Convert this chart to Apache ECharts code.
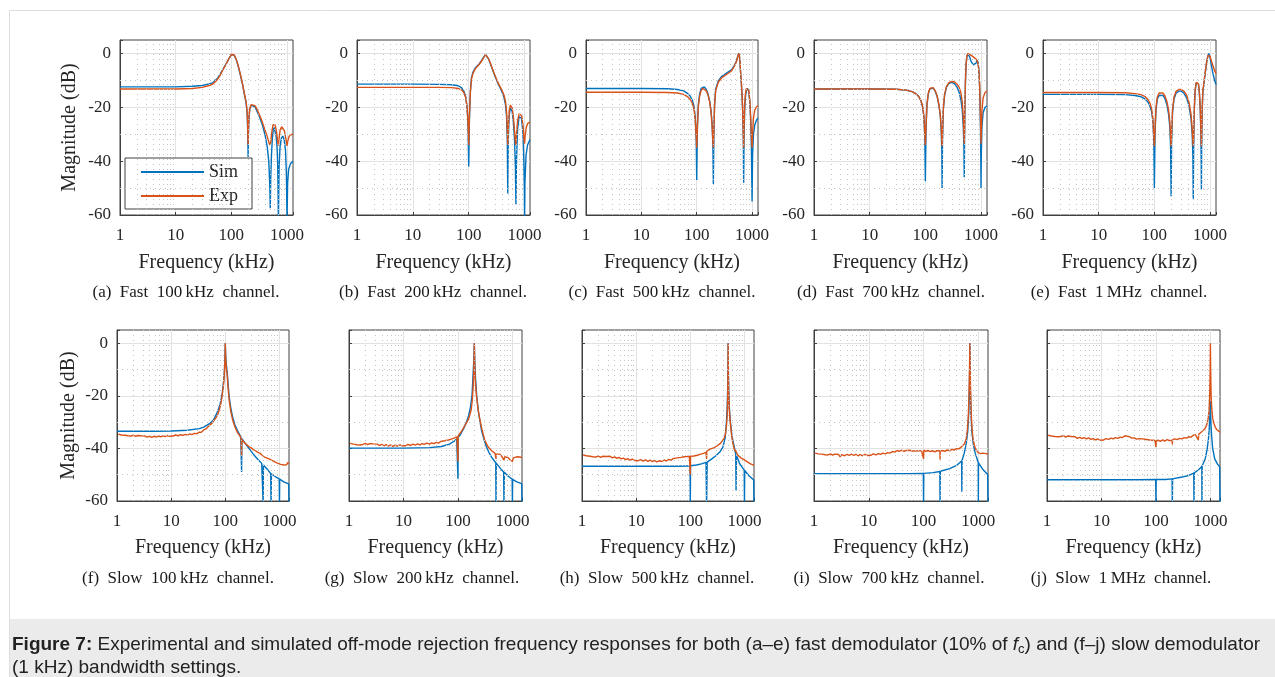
<!DOCTYPE html>
<html>
<head>
<meta charset="utf-8">
<script src="https://cdn.jsdelivr.net/npm/echarts@6.0.0/dist/echarts.min.js"></script>
<style>
  html, body { margin: 0; padding: 0; background: #fff; }
  #main { width: 1275px; height: 677px; }
</style>
</head>
<body>
<div id="main"></div>
<script>
// ---- data: [frequency kHz, magnitude dB] ----
// fast demodulator (a-e)
var simA = [[1,-12.4],[10,-12.4],[20,-12.2],[30,-11.9],[40,-11.3],[46,-10.9],[55,-9.5],[62,-8],[70,-6],[80,-4],[92,-1.6],[100,-0.4],[106,0],[112,-0.6],[122,-2.2],[131,-4.3],[140,-6.6],[150,-9.2],[159,-11.6],[170,-14.8],[184,-18.4],[192,-22],[196,-28],[199,-35],[200,-38.5],[202,-31],[207,-24],[215,-20.5],[228,-19.2],[245,-19],[265,-19.8],[290,-21.5],[320,-23.5],[360,-26.5],[400,-30],[440,-34.5],[470,-40],[490,-49],[500,-57.5],[510,-46],[525,-38],[545,-31.5],[565,-28.5],[585,-27.5],[610,-28],[635,-30.5],[660,-34.5],[680,-41],[700,-62],[720,-42],[750,-34.5],[790,-31.5],[840,-30.7],[890,-32],[940,-36],[975,-45],[1000,-62],[1025,-48],[1070,-43],[1150,-41],[1280,-40]];
var expA = [[1,-13.2],[10,-13.2],[20,-13],[30,-12.6],[40,-11.9],[46,-11.4],[55,-9.9],[62,-8.3],[70,-6.2],[80,-4.1],[92,-1.6],[100,-0.4],[106,0],[112,-0.5],[122,-2.1],[131,-4.1],[140,-6.4],[150,-9],[159,-11.4],[170,-14.5],[184,-18],[192,-21.5],[196,-26],[199,-32],[200,-34],[202,-29],[207,-23.5],[215,-20.2],[228,-19],[245,-18.7],[265,-19.4],[290,-20.8],[320,-22.8],[360,-25.5],[400,-28.3],[440,-30.8],[470,-32.8],[490,-34],[500,-34.5],[510,-33],[530,-29.5],[560,-26.5],[585,-25.8],[610,-26.5],[640,-28.5],[670,-31.5],[690,-33.5],[700,-34.3],[715,-32],[750,-28.5],[800,-27.2],[850,-27.3],[900,-28.8],[950,-31.5],[985,-33.5],[1000,-34.3],[1020,-33],[1080,-31],[1150,-30.2],[1280,-30]];

var simB = [[1,-11.4],[10,-11.4],[30,-11.5],[50,-11.6],[65,-12],[75,-12.8],[82,-14],[88,-16],[93,-19.5],[97,-26],[100,-42],[103,-24],[107,-14],[112,-9],[120,-6.8],[130,-5.5],[140,-4.8],[155,-3.8],[170,-2.6],[185,-1.4],[200,-0.3],[208,0],[215,-0.5],[230,-2.3],[250,-4.4],[280,-7.2],[310,-9.6],[340,-11.5],[370,-13],[400,-14.6],[430,-16.5],[455,-19],[475,-23],[490,-32],[500,-52],[510,-32],[530,-23],[555,-20.3],[575,-20],[600,-21.5],[630,-25.5],[660,-32],[685,-42],[700,-56],[715,-40],[750,-28],[800,-23.5],[840,-22.8],[880,-24],[930,-29],[965,-38],[990,-50],[1000,-62],[1015,-48],[1060,-38],[1130,-34],[1250,-32]];
var expB = [[1,-12.6],[10,-12.6],[30,-12.6],[50,-12.7],[65,-13],[75,-13.6],[82,-14.6],[88,-16.3],[93,-19.5],[97,-25],[100,-34],[103,-23],[107,-14.5],[112,-9.5],[120,-7.2],[130,-5.8],[140,-5],[155,-4],[170,-2.8],[185,-1.6],[200,-0.4],[208,0],[215,-0.5],[230,-2.2],[250,-4.2],[280,-7],[310,-9.3],[340,-11.2],[370,-12.6],[400,-14],[430,-15.6],[455,-17.8],[475,-21.5],[490,-28],[500,-34],[510,-28],[530,-21.5],[555,-19.2],[575,-19],[600,-20.2],[630,-23.5],[660,-28.5],[685,-33],[700,-34],[715,-30],[750,-25],[800,-22.4],[845,-22],[890,-23.2],[940,-27],[975,-31.5],[1000,-33.5],[1020,-31],[1070,-27.5],[1140,-26],[1250,-25.5]];

var simC = [[1,-13],[10,-13],[30,-13.1],[45,-13.4],[58,-13.9],[68,-14.8],[76,-15.8],[83,-17.3],[89,-19.5],[94,-23.5],[98,-32],[100,-47],[103,-27],[107,-19],[113,-15],[120,-13],[128,-12.3],[137,-12.4],[148,-13.3],[160,-15],[172,-17.8],[182,-21.5],[190,-26.5],[196,-34],[200,-48.5],[204,-30],[210,-19],[220,-13.3],[245,-10.2],[280,-8.6],[345,-7.3],[425,-6.1],[475,-4.6],[525,-2.7],[555,-0.8],[575,0],[590,-0.9],[605,-3.2],[620,-7],[640,-11],[660,-16],[680,-22.5],[695,-32],[705,-48],[715,-32],[735,-21],[760,-16],[790,-13.8],[830,-13],[870,-14],[910,-18],[945,-25],[975,-36],[1000,-55],[1020,-38],[1060,-30],[1120,-26.5],[1200,-24.8],[1280,-24]];
var expC = [[1,-14.4],[10,-14.4],[30,-14.5],[45,-14.7],[58,-15.2],[68,-16],[76,-17],[83,-18.4],[89,-20.5],[94,-24.5],[98,-31],[100,-35],[103,-27],[107,-19.8],[113,-15.8],[120,-13.8],[128,-13],[137,-13],[148,-13.8],[160,-15.4],[172,-18.2],[182,-22],[190,-27],[196,-32.5],[200,-35],[204,-29],[210,-19.5],[220,-13.8],[245,-10.7],[280,-9.1],[345,-7.8],[425,-6.5],[475,-4.9],[525,-2.9],[555,-0.9],[575,0],[590,-0.8],[605,-3],[620,-6.8],[640,-10.8],[660,-15.5],[680,-22],[695,-30],[705,-35],[715,-28],[735,-19],[760,-14.8],[790,-13],[830,-12.6],[870,-13.7],[910,-17.5],[945,-24],[975,-31],[1000,-35],[1020,-30],[1060,-24],[1120,-21],[1200,-19.8],[1280,-19.5]];

var simD = [[1,-13.2],[10,-13.2],[30,-13.3],[45,-13.6],[58,-14.2],[68,-15],[76,-16],[83,-17.5],[89,-19.7],[94,-23.5],[98,-32],[100,-47.5],[103,-27],[107,-19],[113,-15],[120,-13.2],[128,-12.7],[138,-12.9],[150,-14],[163,-16],[176,-19.5],[186,-23.5],[193,-29],[198,-37],[200,-50],[203,-33],[210,-21],[222,-15.5],[240,-12.5],[265,-11.1],[300,-10.7],[335,-11.3],[370,-12.5],[405,-14.5],[435,-17.2],[460,-21],[480,-27],[493,-35],[500,-46],[507,-30],[515,-18],[525,-10.5],[540,-4],[558,-1],[580,-0.1],[600,0],[625,-1.3],[660,-2.8],[720,-4.2],[770,-4.5],[810,-3.6],[850,-2.6],[885,-3.4],[920,-7],[950,-14],[975,-26],[992,-40],[1000,-50],[1010,-38],[1040,-27],[1090,-22],[1180,-20],[1280,-19.5]];
var expD = [[1,-13.2],[10,-13.2],[30,-13.3],[45,-13.6],[58,-14.2],[68,-15],[76,-16],[83,-17.4],[89,-19.5],[94,-23],[98,-30],[100,-34],[103,-26.5],[107,-18.8],[113,-14.8],[120,-13],[128,-12.5],[138,-12.7],[150,-13.8],[163,-15.8],[176,-19.2],[186,-23],[193,-28],[198,-33],[200,-34.5],[203,-30],[210,-20.5],[222,-15],[240,-12.2],[265,-10.8],[300,-10.4],[335,-10.6],[370,-11.4],[405,-12.6],[435,-14.6],[460,-18],[480,-23.5],[493,-30],[500,-33.5],[507,-28],[515,-17.5],[525,-10],[540,-3.8],[558,-0.9],[580,-0.1],[600,0],[640,-0.5],[700,-1],[760,-1.6],[820,-2.2],[870,-3],[910,-5.5],[945,-12],[975,-23],[992,-31],[1000,-33.5],[1010,-29],[1040,-21],[1090,-16.5],[1180,-14.5],[1280,-14]];

var simE = [[1,-15.2],[10,-15.2],[30,-15.3],[45,-15.6],[58,-16.1],[68,-16.9],[76,-17.9],[83,-19.4],[89,-21.5],[94,-25],[98,-33],[100,-50],[103,-29],[107,-21],[113,-17],[122,-15.5],[132,-15.2],[143,-15.6],[155,-16.8],[168,-19],[180,-22.5],[190,-27.5],[196,-35],[200,-53],[204,-33],[212,-22],[225,-17],[245,-14.8],[275,-14],[305,-14],[340,-14.8],[380,-16.5],[420,-19.5],[455,-24],[478,-30],[492,-38],[500,-54],[508,-36],[520,-22],[540,-14],[565,-11],[595,-10.3],[620,-11.5],[645,-15],[668,-21],[685,-30],[695,-40],[700,-50.5],[706,-36],[720,-22],[745,-14],[770,-12],[800,-9],[830,-6.5],[860,-4],[890,-2.2],[920,-0.8],[950,0],[1000,-1.5],[1060,-4.5],[1130,-7.5],[1200,-9.8],[1280,-11.5]];
var expE = [[1,-14.5],[10,-14.5],[30,-14.6],[45,-14.9],[58,-15.3],[68,-16],[76,-17],[83,-18.4],[89,-20.4],[94,-24],[98,-31],[100,-34.5],[103,-28],[107,-20],[113,-16.2],[122,-14.7],[132,-14.4],[143,-14.7],[155,-15.8],[168,-17.8],[180,-21],[190,-25.5],[196,-31],[200,-34.5],[204,-30],[212,-21],[225,-16.2],[245,-14.1],[275,-13.4],[305,-13.4],[340,-14],[380,-15.5],[420,-18.2],[455,-22.5],[478,-28],[492,-32.5],[500,-34.5],[508,-31],[520,-21],[540,-13.5],[565,-10.7],[595,-10.2],[620,-11.3],[645,-14.6],[668,-20.5],[685,-28],[695,-33],[700,-34.5],[706,-31],[720,-21],[745,-13.5],[770,-11.5],[800,-8.6],[830,-6.2],[860,-3.8],[890,-2],[920,-0.7],[950,0],[1000,-1],[1060,-2.8],[1130,-4.6],[1200,-6.2],[1280,-7.5]];

// slow demodulator (f-j)
var simF = [[1,-33.5],[5,-33.5],[10,-33.4],[20,-33.1],[33,-32.5],[40,-31.9],[51,-30.6],[60,-29.3],[70,-26.6],[80,-23.3],[88,-19],[93,-14.5],[96,-11],[98,-7],[99.3,-3],[100,0],[100.7,-2.5],[102,-5.5],[104,-8],[108,-10.5],[113,-16],[118,-20.5],[126,-24.5],[136,-28],[150,-31],[168,-33.2],[193,-35.7],[198,-36],[200,-49],[202,-36.3],[240,-38.5],[275,-40.1],[330,-42.2],[400,-44.2],[470,-45.7],[495,-46.2],[500,-61],[505,-46.3],[600,-48],[690,-49.6],[700,-61],[710,-49.7],[850,-50.8],[990,-51.6],[1000,-61],[1010,-51.7],[1200,-52.7],[1480,-53.5],[1500,-61]];
var expF = [[1.05,-34.6],[1.2,-34.9],[1.4,-35.0],[1.5,-34.7],[1.6,-35.2],[1.7,-34.9],[1.8,-35.3],[2,-35.0],[2.2,-35.4],[2.4,-35.1],[2.6,-35.5],[2.8,-35.2],[3,-35.6],[3.3,-35.3],[3.6,-35.7],[4,-35.4],[4.4,-35.8],[4.8,-35.4],[5.3,-35.7],[5.8,-35.3],[6.4,-35.6],[7,-35.2],[7.7,-35.5],[8.5,-35.1],[9.3,-35.4],[10,-35.0],[11,-35.3],[12,-34.9],[13.5,-35.2],[15,-34.8],[16.5,-35.1],[18,-34.7],[20,-35.0],[22,-34.5],[24,-34.8],[27,-34.3],[30,-34.4],[33,-33.8],[36,-33.9],[40,-33.0],[44,-32.6],[48,-31.8],[52,-31.4],[57,-30.4],[62,-29.8],[67,-28.4],[72,-27.2],[77,-25.5],[82,-23.4],[86,-21],[90,-18],[93,-15.5],[96,-11.5],[98,-7.5],[99.3,-3.5],[100,0],[100.7,-3],[102,-6.5],[104,-9],[108,-12],[113,-17.5],[118,-21.8],[126,-25.8],[136,-29],[150,-31.8],[168,-34],[185,-35.2],[196,-36.2],[199,-36.5],[200,-43],[201,-36.6],[215,-37.3],[230,-38.0],[250,-38.6],[275,-39.4],[300,-39.8],[330,-40.5],[360,-40.9],[400,-41.5],[440,-41.9],[480,-42.6],[500,-42.4],[530,-43.3],[570,-42.7],[610,-43.8],[650,-43.2],[700,-44.4],[750,-43.9],[800,-45.0],[860,-44.6],[920,-45.6],[980,-45.2],[1050,-46.1],[1120,-45.6],[1200,-46.3],[1280,-45.8],[1360,-46.2],[1420,-45.4],[1500,-45.7]];

var simG = [[1,-39.9],[10,-39.9],[30,-39.7],[50,-39.3],[70,-38.4],[85,-37.3],[95,-36.4],[99,-36],[100,-51.5],[101,-35.8],[110,-34.9],[125,-32.8],[140,-30.6],[155,-28],[170,-24.3],[182,-19.5],[190,-11.5],[195,-7],[198,-3.5],[200,0],[202,-4],[205,-8],[210,-13],[220,-19.5],[236,-25.6],[255,-30],[270,-33],[300,-36.5],[334,-39.5],[370,-41.5],[414,-43.3],[460,-44.6],[495,-45.5],[500,-61],[505,-45.6],[600,-47.6],[690,-49],[700,-61],[710,-49.1],[850,-50.7],[990,-51.7],[1000,-61],[1010,-51.8],[1200,-52.7],[1480,-53.4],[1500,-61]];
var expG = [[1.05,-38.1],[1.2,-38.4],[1.4,-38.6],[1.5,-38.2],[1.6,-38.7],[1.7,-38.3],[1.8,-38.5],[2,-38.1],[2.2,-38.6],[2.4,-38.2],[2.6,-38.7],[2.8,-38.3],[3,-38.8],[3.3,-38.4],[3.6,-38.9],[4,-38.5],[4.4,-39.0],[4.8,-38.6],[5.3,-39.1],[5.8,-38.7],[6.4,-39.2],[7,-38.8],[7.7,-39.1],[8.5,-38.7],[9.3,-39.0],[10,-38.6],[11,-39.0],[12,-38.5],[13.5,-38.9],[15,-38.4],[16.5,-38.8],[18,-38.3],[20,-38.7],[22,-38.2],[24,-38.5],[27,-38.0],[30,-38.4],[33,-37.9],[36,-38.2],[40,-37.7],[44,-38.0],[48,-37.4],[52,-37.7],[57,-37.1],[62,-37.3],[67,-36.8],[72,-37.0],[77,-36.4],[82,-36.6],[87,-36.0],[92,-36.1],[96,-35.6],[99,-35.9],[100,-45],[101,-35.3],[108,-34.6],[116,-33.5],[125,-32.4],[135,-31.2],[145,-30.1],[155,-29.1],[165,-27.4],[175,-25.3],[183,-22],[190,-17],[195,-11],[198,-5],[200,0],[202,-6],[205,-11],[210,-15.5],[220,-20.5],[236,-25.6],[255,-29.5],[270,-31.9],[290,-34.6],[310,-36.8],[335,-38.3],[357,-39.4],[385,-40.0],[415,-40.9],[450,-41.3],[480,-41.9],[497,-42.1],[500,-44],[503,-42.2],[540,-42.6],[590,-42.2],[640,-43.1],[680,-42.8],[700,-44.5],[720,-43.2],[780,-43.9],[840,-43.5],[900,-44.3],[960,-43.8],[1000,-45],[1040,-43.6],[1100,-43.9],[1200,-43.2],[1300,-43.8],[1400,-43.3],[1500,-43.6]];

var simH = [[1,-46.8],[10,-46.8],[50,-46.8],[90,-46.7],[99,-46.7],[100,-61],[101,-46.6],[130,-46.3],[160,-45.9],[195,-45.3],[200,-61],[205,-45.2],[250,-44],[300,-42.7],[350,-41.4],[400,-39.5],[440,-36],[465,-30],[480,-24],[490,-17],[495,-11],[498,-5.5],[500,0],[502,-6],[506,-12],[514,-19],[528,-25],[550,-30],[590,-35.5],[640,-39],[690,-42.2],[700,-56],[710,-42.6],[815,-45.8],[990,-48.3],[1000,-61],[1010,-48.4],[1200,-50.3],[1480,-52],[1500,-61]];
var expH = [[1.05,-42.5],[1.2,-42.8],[1.4,-43.0],[1.5,-42.6],[1.6,-43.2],[1.7,-42.8],[1.8,-43.3],[2,-42.9],[2.2,-43.4],[2.4,-43.0],[2.6,-43.5],[2.8,-43.1],[3,-42.6],[3.3,-43.0],[3.6,-43.6],[4,-43.2],[4.4,-43.8],[4.8,-43.4],[5.3,-44.0],[5.8,-43.7],[6.4,-44.3],[7,-43.9],[7.7,-44.5],[8.5,-44.1],[9.3,-44.6],[10,-44.2],[11,-44.7],[12,-44.3],[13.5,-44.8],[15,-44.4],[16.5,-44.9],[18,-44.5],[20,-45.0],[22,-44.6],[24,-45.1],[27,-44.7],[30,-45.0],[33,-44.4],[36,-44.8],[40,-44.2],[44,-44.5],[48,-43.9],[52,-44.2],[57,-43.6],[62,-43.9],[67,-43.4],[72,-43.7],[77,-43.2],[82,-43.6],[87,-43.1],[92,-43.5],[96,-43.0],[99,-43.3],[100,-50],[101,-43.0],[108,-42.6],[116,-42.9],[125,-42.3],[135,-42.6],[145,-42.0],[155,-42.2],[165,-41.6],[175,-41.9],[185,-41.3],[195,-41.5],[199,-41.2],[200,-44],[201,-41.1],[215,-40.9],[230,-40.3],[250,-40.4],[270,-39.8],[290,-39.6],[315,-39.0],[340,-38.7],[365,-38.0],[390,-37.5],[420,-36.2],[445,-34.6],[465,-31.5],[480,-27.5],[490,-21],[495,-14],[498,-7],[500,0],[502,-7],[505,-13],[512,-19.5],[525,-25.5],[550,-30.6],[580,-35.2],[610,-38],[650,-40.4],[700,-41.2],[750,-42.5],[800,-42.7],[860,-43.6],[930,-43.8],[1000,-44.4],[1070,-44.6],[1150,-45.2],[1230,-45.0],[1300,-45.9],[1400,-45.9],[1500,-46.5]];

var simI = [[1,-49.6],[10,-49.6],[50,-49.6],[99,-49.5],[100,-61],[101,-49.5],[150,-49.2],[198,-48.8],[200,-61],[202,-48.7],[300,-47.7],[400,-46.5],[495,-44.8],[500,-56.5],[505,-44.5],[550,-42],[600,-38.3],[640,-33.5],[670,-26],[688,-16],[696,-7],[700,0],[704,-7],[712,-16],[730,-26],[760,-33.5],[810,-38.5],[880,-42],[960,-44.3],[995,-45.4],[1000,-61],[1005,-45.5],[1200,-47.9],[1480,-49.9],[1500,-61]];
var expI = [[1.05,-41.8],[1.2,-42.1],[1.4,-42.2],[1.5,-41.9],[1.6,-42.4],[1.7,-42.0],[1.8,-42.5],[2,-42.1],[2.2,-42.6],[2.4,-42.2],[2.6,-42.7],[2.8,-42.3],[3,-43.2],[3.2,-42.4],[3.6,-42.8],[4,-42.3],[4.4,-42.7],[4.8,-42.2],[5.3,-42.7],[5.8,-42.3],[6.4,-42.8],[7,-42.4],[7.7,-42.8],[8.5,-42.3],[9.3,-42.7],[10,-42.3],[11,-42.6],[12,-42.1],[13.5,-42.5],[15,-42.0],[16.5,-42.3],[18,-41.8],[20,-42.1],[22,-41.6],[24,-41.8],[27,-41.2],[30,-41.4],[33,-40.8],[36,-41.1],[40,-40.7],[44,-41.1],[48,-40.8],[52,-41.2],[57,-40.7],[62,-41.0],[67,-40.6],[72,-41.0],[77,-40.6],[82,-40.9],[87,-40.5],[92,-40.9],[96,-40.6],[99,-40.9],[100,-44],[101,-40.7],[110,-41.1],[120,-40.8],[133,-41.2],[145,-40.9],[160,-41.3],[175,-40.9],[190,-41.2],[199,-40.9],[200,-44.2],[201,-41.0],[220,-40.8],[245,-41.1],[270,-40.6],[300,-40.9],[330,-40.4],[365,-40.6],[400,-40.1],[440,-40.2],[480,-39.6],[500,-39.8],[520,-39.2],[560,-38.2],[600,-36.3],[630,-33],[655,-28],[675,-20],[690,-10],[700,0],[710,-10],[725,-20],[745,-28],[770,-33],[800,-36.5],[850,-39],[900,-40.4],[950,-41.1],[1000,-41.7],[1050,-41.4],[1100,-42.0],[1200,-41.8],[1300,-42.4],[1400,-42.0],[1500,-42.3]];

var simJ = [[1,-51.9],[10,-51.9],[50,-51.9],[99,-51.8],[100,-61],[101,-51.8],[150,-51.8],[198,-51.6],[200,-61],[202,-51.6],[300,-50.9],[400,-50.3],[495,-49.4],[500,-61],[505,-49.3],[600,-48.2],[695,-46.9],[700,-61],[705,-46.7],[800,-44],[870,-40.5],[920,-36.5],[955,-32],[980,-27],[995,-23],[1000,-22],[1005,-25],[1020,-30],[1050,-35],[1100,-40],[1200,-44],[1350,-46],[1480,-47],[1500,-61]];
var expJ = [[1.05,-35.0],[1.2,-35.3],[1.4,-35.5],[1.5,-35.1],[1.6,-35.6],[1.7,-35.2],[1.8,-35.5],[2,-35.1],[2.2,-35.7],[2.4,-35.3],[2.6,-35.9],[2.8,-35.5],[3,-36.0],[3.3,-35.6],[3.6,-36.2],[4,-35.8],[4.4,-36.3],[4.8,-35.9],[5.3,-36.4],[5.8,-36.0],[6.4,-36.6],[7,-36.3],[7.7,-36.8],[8.5,-36.4],[9.3,-36.9],[10,-36.5],[11,-36.8],[12,-36.3],[13.5,-36.6],[15,-36.1],[16.5,-36.4],[18,-35.9],[20,-36.2],[22,-35.7],[24,-35.9],[27,-35.2],[30,-35.4],[33,-35.6],[36,-36.1],[40,-36.0],[44,-36.5],[48,-36.3],[52,-36.8],[57,-36.4],[62,-36.9],[67,-36.6],[72,-37.1],[77,-36.8],[82,-37.2],[87,-36.9],[92,-37.3],[96,-37.0],[99,-37.4],[100,-39.5],[101,-37.2],[110,-36.9],[120,-37.3],[133,-36.8],[145,-37.2],[160,-36.7],[175,-37.0],[190,-36.6],[199,-36.9],[200,-38.5],[201,-36.8],[220,-36.4],[245,-36.7],[270,-36.2],[300,-36.4],[330,-35.9],[365,-36.1],[400,-35.6],[440,-35.7],[480,-35.1],[500,-35.2],[530,-34.8],[570,-35.0],[600,-36.8],[610,-34.6],[650,-34.4],[700,-33.6],[750,-33.2],[800,-32.4],[850,-31.2],[900,-29.4],[940,-26],[970,-20],[990,-10],[1000,0],[1010,-10],[1030,-20],[1060,-25],[1100,-28.5],[1160,-30.5],[1230,-32],[1300,-32.8],[1400,-33.5],[1500,-33.8]];

var sims = [simA, simB, simC, simD, simE, simF, simG, simH, simI, simJ];
var exps = [expA, expB, expC, expD, expE, expF, expG, expH, expI, expJ];

var SP = '\u2002';
var captions = [
  '(a)' + SP + 'Fast' + SP + '100\u2009kHz' + SP + 'channel.', '(b)' + SP + 'Fast' + SP + '200\u2009kHz' + SP + 'channel.',
  '(c)' + SP + 'Fast' + SP + '500\u2009kHz' + SP + 'channel.', '(d)' + SP + 'Fast' + SP + '700\u2009kHz' + SP + 'channel.',
  '(e)' + SP + 'Fast' + SP + '1\u2009MHz' + SP + 'channel.',
  '(f)' + SP + 'Slow' + SP + '100\u2009kHz' + SP + 'channel.', '(g)' + SP + 'Slow' + SP + '200\u2009kHz' + SP + 'channel.',
  '(h)' + SP + 'Slow' + SP + '500\u2009kHz' + SP + 'channel.', '(i)' + SP + 'Slow' + SP + '700\u2009kHz' + SP + 'channel.',
  '(j)' + SP + 'Slow' + SP + '1\u2009MHz' + SP + 'channel.'
];
var xMax = [1280, 1250, 1280, 1280, 1280, 1500, 1500, 1500, 1500, 1500];
var minorX = [2, 3, 4, 5, 6, 7, 8, 9, 20, 30, 40, 50, 60, 70, 80, 90, 200, 300, 400, 500, 600, 700, 800, 900];
var minorY = [-50, -30, -10];

// ---- layout ----
var boxes = [
  [120, 40, 173, 175], [357, 40, 173, 175], [586, 40, 172, 175], [814, 40, 173, 175], [1043, 40, 173, 175],
  [117, 330, 172, 171], [349, 330, 173, 171], [582, 330, 172, 171], [814, 330, 174, 171], [1047, 330, 173, 171]
];
var capPos = [[186, 293], [433, 293], [662, 293], [891, 293], [1119, 293],
              [178, 579], [422, 579], [657, 579], [889, 579], [1121, 579]];

var SERIF = "'Liberation Serif', 'Times New Roman', serif";
var SANS = "'Liberation Sans', Arial, sans-serif";
var TXT = '#262626';
var BOX = '#404040';

function decadeLabel(v) {
  var l = Math.log(v) / Math.LN10;
  return Math.abs(l - Math.round(l)) < 1e-6 ? String(Math.round(v)) : '';
}

var grids = [], xAxes = [], yAxes = [], series = [], graphics = [];

for (var i = 0; i < 10; i++) {
  var b = boxes[i];
  var bottomRow = i >= 5;
  grids.push({
    left: b[0], top: b[1], width: b[2], height: b[3],
    show: true, backgroundColor: '#fff', borderColor: BOX, borderWidth: 1,
    containLabel: false, outerBoundsMode: 'none'
  });
  xAxes.push({
    gridIndex: i, type: 'log', logBase: 10, min: 1, max: xMax[i],
    name: 'Frequency (kHz)', nameLocation: 'middle', nameGap: bottomRow ? 37 : 38,
    nameTextStyle: { fontFamily: SERIF, fontSize: 20, color: TXT },
    axisLine: { show: true, onZero: false, lineStyle: { color: BOX } },
    axisTick: { show: true, inside: true, length: 3, lineStyle: { color: BOX } },
    axisLabel: { fontFamily: SERIF, fontSize: 17, color: TXT, margin: 12, formatter: decadeLabel },
    splitLine: { show: true, showMinLine: false, showMaxLine: false, lineStyle: { color: '#e2e2e2', width: 1 } }
  });
  yAxes.push({
    gridIndex: i, type: 'value', min: -60, max: 5, interval: 20,
    name: (i === 0 || i === 5) ? 'Magnitude (dB)' : '', nameLocation: 'middle', nameGap: bottomRow ? 38 : 40,
    nameTextStyle: { fontFamily: SERIF, fontSize: 20, color: TXT },
    axisLine: { show: true, onZero: false, lineStyle: { color: BOX } },
    axisTick: { show: true, inside: true, length: 3, lineStyle: { color: BOX } },
    axisLabel: { show: i <= 5, fontFamily: SERIF, fontSize: 17, color: TXT, margin: 9,
      formatter: function (v) { return v > 0 ? '' : String(v); } },
    splitLine: { show: true, showMinLine: false, showMaxLine: false, lineStyle: { color: '#e2e2e2', width: 1 } }
  });

  // dotted minor grid
  var ml = [];
  minorX.forEach(function (v) { if (v < xMax[i]) ml.push({ xAxis: v }); });
  minorY.forEach(function (v) { ml.push({ yAxis: v }); });
  series.push({
    type: 'line', xAxisIndex: i, yAxisIndex: i, data: [], silent: true, z: 1,
    markLine: { silent: true, symbol: ['none', 'none'], label: { show: false }, animation: false,
      lineStyle: { color: '#c4c4c4', type: [1, 4], width: 1 }, data: ml }
  });

  series.push({
    name: 'Sim', type: 'line', xAxisIndex: i, yAxisIndex: i, data: sims[i],
    symbol: 'none', showSymbol: false, z: 3, clip: true,
    lineStyle: { color: '#0072BD', width: 1.4 }, itemStyle: { color: '#0072BD' }
  });
  series.push({
    name: 'Exp', type: 'line', xAxisIndex: i, yAxisIndex: i, data: exps[i],
    symbol: 'none', showSymbol: false, z: 4, clip: true,
    lineStyle: { color: '#D95319', width: 1.4 }, itemStyle: { color: '#D95319' }
  });

  graphics.push({
    type: 'text', x: capPos[i][0], y: capPos[i][1], z: 10,
    style: { text: captions[i], font: "17px 'Liberation Serif', serif", fill: '#1a1a1a',
      align: 'center', verticalAlign: 'middle', textAlign: 'center', textVerticalAlign: 'middle' }
  });
}

// figure frame and caption band
graphics.unshift({
  type: 'rect', z: -10, shape: { x: 9.5, y: 10.5, width: 1270, height: 670 },
  style: { fill: '#fff', stroke: '#dedede', lineWidth: 1 }
});
graphics.push({
  type: 'rect', z: 5, shape: { x: 10, y: 619, width: 1265, height: 58 },
  style: { fill: '#ebebeb' }
});
graphics.push({
  type: 'text', x: 12, y: 633, z: 11,
  style: {
    text: '{b|Figure 7:} Experimental and simulated off-mode rejection frequency responses for both (a\u2013e) fast demodulator (10% of {i|f}{s|c}) and (f\u2013j) slow demodulator\n(1 kHz) bandwidth settings.',
    font: '19px ' + SANS, fill: '#222', lineHeight: 23,
    verticalAlign: 'top', textVerticalAlign: 'top',
    rich: {
      b: { fontWeight: 'bold', fontSize: 19, fontFamily: SANS, lineHeight: 23 },
      i: { fontStyle: 'italic', fontSize: 19, fontFamily: SANS, lineHeight: 23 },
      s: { fontSize: 13, fontFamily: SANS, lineHeight: 23, verticalAlign: 'bottom' }
    }
  }
});

var chart = echarts.init(document.getElementById('main'), null, { renderer: 'canvas' });
chart.setOption({
  animation: false,
  backgroundColor: '#fff',
  grid: grids,
  xAxis: xAxes,
  yAxis: yAxes,
  legend: {
    data: ['Sim', 'Exp'], orient: 'vertical', left: 125, top: 158,
    padding: [5, 14, 4, 15], itemGap: 6, itemWidth: 63, itemHeight: 14,
    backgroundColor: '#fff', borderColor: BOX, borderWidth: 1, selectedMode: false,
    itemStyle: { opacity: 0 },
    textStyle: { fontFamily: SERIF, fontSize: 18, color: TXT }
  },
  graphic: graphics,
  series: series
});
</script>
</body>
</html>
